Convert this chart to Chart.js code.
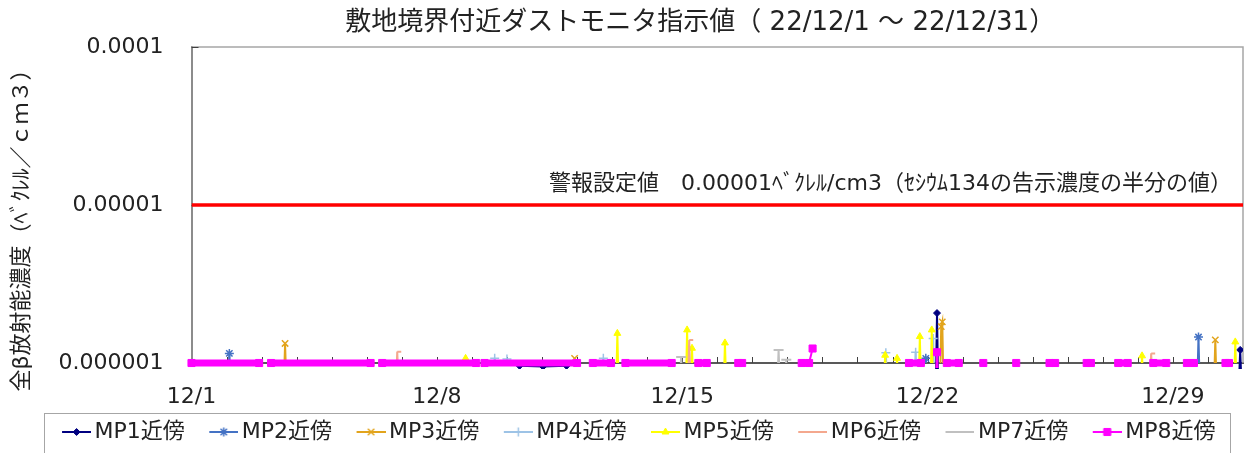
<!DOCTYPE html>
<html><head><meta charset="utf-8">
<script src="https://cdn.jsdelivr.net/npm/chart.js@4.4.1/dist/chart.umd.min.js"></script>
<style>html,body{margin:0;padding:0;background:#fff;overflow:hidden}canvas{display:block}</style>
</head><body>
<canvas id="c" width="1250" height="453"></canvas>
<script>
// ---- texts ----
const chartTitle = '敷地境界付近ダストモニタ指示値（ 22/12/1 ～ 22/12/31）';
const yAxisTitle = '全β放射能濃度（ﾍﾞｸﾚﾙ／ｃｍ３）';
const warnNote = '警報設定値　0.00001ﾍﾞｸﾚﾙ/cm3（ｾｼｳﾑ134の告示濃度の半分の値）';
const seriesNames = ['MP1近傍','MP2近傍','MP3近傍','MP4近傍','MP5近傍','MP6近傍','MP7近傍','MP8近傍'];

// ---- axes ----
const xTickDays = [0, 7, 14, 21, 28];            // days since 12/1 00:00
const xTickLabels = ['12/1', '12/8', '12/15', '12/22', '12/29'];
const xRangeDays = [0, 30];
const yTickValues = [1e-6, 1e-5, 1e-4];
const yTickLabels = ['0.000001', '0.00001', '0.0001'];

// ---- warning level ----
const warnDays = [0, 30];
const warnValues = [1e-5, 1e-5];

// ---- readings (day offset from 12/1 00:00, Bq/cm3); values < 1e-6 lie below the plotted range ----
const mp1Days   = [9.36, 10.03, 10.70, 15.00, 21.24, 21.27, 21.30, 29.89, 29.92, 29.95];
const mp1Values = [9.6e-7, 9.5e-7, 9.6e-7, null, 8e-7, 2.07e-6, 8e-7, 8e-7, 1.21e-6, 8e-7];

const mp2Days   = [1.05, 1.08, 1.11, 20.92, 20.95, 20.98, 28.70, 28.73, 28.76];
const mp2Values = [8e-7, 1.15e-6, 8e-7, 8e-7, 1.07e-6, 8e-7, 8e-7, 1.46e-6, 8e-7];

const mp3Days   = [2.64, 2.67, 2.70, 10.90, 10.93, 10.96, 21.36, 21.39, 21.42, 21.45, 29.18, 29.21, 29.24];
const mp3Values = [8e-7, 1.33e-6, 8e-7, 8e-7, 1.07e-6, 8e-7, 8e-7, 1.70e-6, 1.82e-6, 8e-7, 8e-7, 1.40e-6, 8e-7];

const mp4Days   = [8.62, 8.65, 8.68, 8.97, 9.00, 9.03, 11.72, 11.75, 11.78, 19.78, 19.81, 19.84, 20.63, 20.66, 20.69, 21.13, 21.16, 21.19];
const mp4Values = [8e-7, 1.07e-6, 8e-7, 8e-7, 1.06e-6, 8e-7, 8e-7, 1.07e-6, 8e-7, 8e-7, 1.16e-6, 8e-7, 8e-7, 1.17e-6, 8e-7, 8e-7, 1.43e-6, 8e-7];

const mp5Days   = [7.79, 7.82, 7.85, 12.12, 12.15, 12.18, 14.11, 14.14, 14.17, 14.25, 14.28, 14.31, 15.19, 15.22, 15.25,
                   19.76, 19.79, 19.82, 20.10, 20.13, 20.16, 20.75, 20.78, 20.81, 21.09, 21.12, 21.15, 27.09, 27.12, 27.15, 29.75, 29.78, 29.81];
const mp5Values = [8e-7, 1.07e-6, 8e-7, 8e-7, 1.54e-6, 8e-7, 8e-7, 1.62e-6, 8e-7, 8e-7, 1.24e-6, 8e-7, 8e-7, 1.34e-6, 8e-7,
                   8e-7, 1.12e-6, 8e-7, 8e-7, 1.07e-6, 8e-7, 8e-7, 1.47e-6, 8e-7, 8e-7, 1.62e-6, 8e-7, 8e-7, 1.11e-6, 8e-7, 8e-7, 1.36e-6, 8e-7];

const mp6Days   = [5.84, 5.87, 5.90, 14.17, 14.20, 14.23, 27.35, 27.38, 27.41];
const mp6Values = [8e-7, 1.18e-6, 8e-7, 8e-7, 1.40e-6, 8e-7, 8e-7, 1.15e-6, 8e-7];

const mp7Days   = [13.94, 13.97, 14.00, 16.72, 16.75, 16.78, 16.94, 16.97, 17.00];
const mp7Values = [8e-7, 1.09e-6, 8e-7, 8e-7, 1.21e-6, 8e-7, 8e-7, 1.05e-6, 8e-7];

const mp8Days   = [0.00, 1.93, 2.10, 2.27, 5.11, 5.28, 5.44, 8.12, 8.24, 8.36, 11.00, 11.22, 11.45, 11.97, 12.17,
                   12.38, 13.70, 14.08, 14.46, 14.70, 15.15, 15.60, 15.71, 16.56, 17.41, 17.62, 17.72, 19.08,
                   20.47, 20.81, 21.03, 21.24, 21.27, 21.30, 21.42, 21.55, 21.89, 22.24, 22.59, 23.06, 23.53, 24.00,
                   24.48, 24.64, 25.09, 25.54, 25.66, 26.05, 26.44, 26.71, 27.08, 27.44, 27.81, 28.10, 28.40, 28.60,
                   29.05, 29.50, 29.60];
const mp8Values = [1e-6, 1e-6, null, 1e-6, 1e-6, null, 1e-6, 1e-6, null, 1e-6, 1e-6, null, 1e-6, 1e-6, null,
                   1e-6, 1e-6, null, 1e-6, 1e-6, null, 1e-6, 1e-6, null, 1e-6, 1e-6, 1.235e-6, null,
                   1e-6, 1e-6, null, 8e-7, 1.17e-6, 8e-7, null, 1e-6, 1e-6, null, 1e-6, null, 1e-6, null,
                   1e-6, 1e-6, null, 1e-6, 1e-6, null, 1e-6, 1e-6, null, 1e-6, 1e-6, null, 1e-6, 1e-6,
                   null, 1e-6, 1e-6];

const seriesDays = [mp1Days, mp2Days, mp3Days, mp4Days, mp5Days, mp6Days, mp7Days, mp8Days];
const seriesValues = [mp1Values, mp2Values, mp3Values, mp4Values, mp5Values, mp6Values, mp7Values, mp8Values];

// ---- styles ----
const FONT = '"DejaVu Sans", "Noto Sans CJK JP", sans-serif';
const styles = [
  {color: '#000080', point: 'rectRot',  r: 3.5, bw: 1},
  {color: '#4472C4', point: 'star',     r: 4.5, bw: 1.5},
  {color: '#E2A41C', point: 'crossRot', r: 4.5, bw: 1.5},
  {color: '#9DC3E6', point: 'cross',    r: 4.5, bw: 1.5},
  {color: '#FFFF00', point: 'triangle', r: 4,   bw: 1},
  {color: '#F4A88E', point: 'dash',     r: 4,   bw: 2},
  {color: '#C0C0C0', point: 'line',     r: 5,   bw: 2},
  {color: '#FF00FF', point: 'rect',     r: 5,   bw: 1}
];
const clips = [
  {left: 0, top: 0, right: 0, bottom: 6},
  null, null, null, null, null, null,
  {left: 5, top: 0, right: 5, bottom: 5}
];

Chart.defaults.font.family = FONT;
Chart.defaults.color = '#222';

const toPoints = (days, vals) => days.map((d, i) => ({x: d, y: vals[i]}));
const isBase = v => v != null && Math.abs(Math.log10(v) + 6) < 0.005;

const seriesDatasets = seriesNames.map((name, k) => {
  const s = styles[k];
  const ds = {
    label: name,
    isSeries: true,
    data: toPoints(seriesDays[k], seriesValues[k]),
    borderColor: s.color,
    backgroundColor: s.color,
    borderWidth: 2,
    pointStyle: s.point,
    pointRadius: s.r,
    pointBorderWidth: s.bw,
    pointBackgroundColor: s.color,
    pointBorderColor: s.color,
    order: 8 - k,
    tension: 0
  };
  if (clips[k]) ds.clip = clips[k];
  if (k === 7) ds.segment = { borderWidth: c => (isBase(c.p0.parsed.y) && isBase(c.p1.parsed.y)) ? 7 : 2 };
  return ds;
});

const warnDataset = {
  label: 'warning',
  isSeries: false,
  data: toPoints(warnDays, warnValues),
  borderColor: '#FF0000',
  borderWidth: 3.5,
  pointRadius: 0,
  order: 9
};

function legendIcon(ds) {
  const cv = document.createElement('canvas');
  cv.width = 51; cv.height = 16;
  const c = cv.getContext('2d');
  c.strokeStyle = ds.borderColor; c.fillStyle = ds.borderColor;
  c.lineWidth = 2;
  c.beginPath(); c.moveTo(22, 8); c.lineTo(51, 8); c.stroke();
  c.lineWidth = ds.pointBorderWidth;
  Chart.helpers.drawPoint(c, {pointStyle: ds.pointStyle, radius: ds.pointRadius, rotation: 0, borderWidth: ds.pointBorderWidth}, 36.5, 8);
  return cv;
}

const decor = {
  id: 'decor',
  beforeDatasetsDraw(chart) {
    const {ctx, chartArea: a, scales: {x, y}} = chart;
    ctx.save();
    ctx.strokeStyle = '#a6a6a6'; ctx.lineWidth = 1.5;
    ctx.beginPath();
    ctx.moveTo(a.left, a.top); ctx.lineTo(a.right, a.top); ctx.lineTo(a.right, a.bottom);
    ctx.stroke();
    ctx.strokeStyle = '#404040'; ctx.lineWidth = 1;
    ctx.beginPath();
    for (let d = x.min + 1; d < x.max; d++) {
      const px = Math.round(x.getPixelForValue(d)) + 0.5;
      ctx.moveTo(px, a.bottom); ctx.lineTo(px, a.bottom - 6);
    }
    y.ticks.forEach(t => {
      const py = Math.round(y.getPixelForValue(t.value)) + 0.5;
      if (py < a.bottom - 2) { ctx.moveTo(a.left, py); ctx.lineTo(a.left + 7, py); }
    });
    ctx.stroke();
    ctx.restore();
  },
  afterDraw(chart) {
    const {ctx, chartArea: a, scales: {y}} = chart;
    ctx.save();
    ctx.fillStyle = '#222';
    ctx.textBaseline = 'middle';
    // title
    ctx.font = '26px ' + FONT;
    ctx.textAlign = 'center';
    ctx.fillText(chartTitle, (a.left + a.right) / 2 - 17, 23);
    // y-axis title
    ctx.save();
    ctx.translate(22, (a.top + a.bottom) / 2 + 20);
    ctx.rotate(-Math.PI / 2);
    ctx.font = '22px ' + FONT;
    ctx.fillText(yAxisTitle, 0, 0);
    ctx.restore();
    // warning note
    ctx.font = '22px ' + FONT;
    ctx.textAlign = 'right';
    ctx.fillText(warnNote, a.right - 11, y.getPixelForValue(warnValues[0]) - 21);
    // legend frame
    const lg = chart.legend, hb = lg.legendHitBoxes;
    if (hb && hb.length) {
      const l = hb[0].left - 4;
      const last = hb[hb.length - 1];
      const r = last.left + last.width + 14;
      ctx.strokeStyle = '#a6a6a6'; ctx.lineWidth = 1;
      ctx.strokeRect(Math.round(l) + 0.5, Math.round(lg.top + 2) + 0.5, Math.round(r - l), 80);
    }
    ctx.restore();
  }
};

new Chart(document.getElementById('c'), {
  type: 'line',
  data: { datasets: [...seriesDatasets, warnDataset] },
  options: {
    responsive: false,
    animation: false,
    devicePixelRatio: 1,
    events: [],
    layout: { padding: { top: 47, left: 20, right: 7, bottom: 0 } },
    elements: { line: { tension: 0 }, point: { hitRadius: 0 } },
    scales: {
      x: {
        type: 'linear',
        min: xRangeDays[0], max: xRangeDays[1],
        grid: { display: false, drawTicks: false },
        border: { display: true, color: '#595959', width: 2 },
        afterBuildTicks: s => { s.ticks = xTickDays.map(v => ({value: v})); },
        afterFit: s => { s.height = 48; },
        ticks: {
          autoSkip: false, maxRotation: 0, padding: 21,
          font: { size: 22 }, color: '#222',
          callback: (v, i) => xTickLabels[i]
        }
      },
      y: {
        type: 'logarithmic',
        min: yTickValues[0], max: yTickValues[yTickValues.length - 1],
        grid: { display: false, drawTicks: false },
        border: { display: true, color: '#8c8c8c', width: 2 },
        afterBuildTicks: s => { s.ticks = yTickValues.map(v => ({value: v})); },
        afterFit: s => { s.width = 171.5; },
        ticks: {
          padding: 28,
          font: { size: 22 }, color: '#222',
          callback: (v, i) => yTickLabels[i]
        }
      }
    },
    plugins: {
      title: { display: false },
      tooltip: { enabled: false },
      legend: {
        position: 'bottom',
        labels: {
          font: { size: 22 }, color: '#222',
          usePointStyle: true, pointStyleWidth: 36, padding: 10,
          generateLabels: chart => chart.data.datasets
            .map((ds, i) => ({ds, i}))
            .filter(o => o.ds.isSeries)
            .map(o => ({
              text: o.ds.label,
              pointStyle: legendIcon(o.ds),
              fillStyle: o.ds.borderColor,
              strokeStyle: o.ds.borderColor,
              fontColor: '#222',
              lineWidth: 0,
              hidden: false,
              datasetIndex: o.i
            }))
        }
      }
    }
  },
  plugins: [decor]
});
</script>
</body></html>
